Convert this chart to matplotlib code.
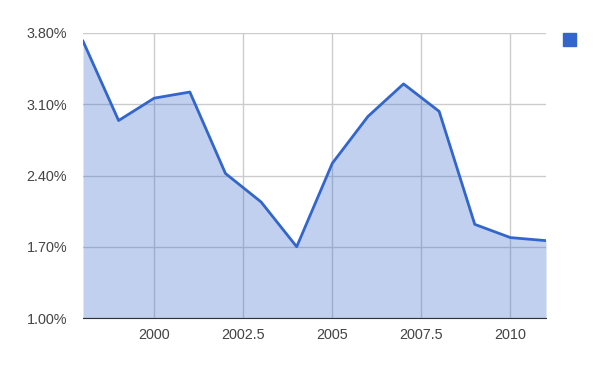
import matplotlib.pyplot as plt
import matplotlib.patches as mpatches
from matplotlib.ticker import FuncFormatter

# datos
years = [1998, 1999, 2000, 2001, 2002, 2003, 2004, 2005, 2006, 2007, 2008, 2009, 2010, 2011]
rates = [3.72, 2.94, 3.16, 3.22, 2.42, 2.14, 1.70, 2.52, 2.98, 3.30, 3.03, 1.92, 1.79, 1.76]
x_ticks = [2000, 2002.5, 2005, 2007.5, 2010]
y_ticks = [1.00, 1.70, 2.40, 3.10, 3.80]

blue = '#3366cc'

plt.rcParams['font.family'] = ['Liberation Sans', 'DejaVu Sans']

fig = plt.figure(figsize=(5.96, 3.67), dpi=100)
ax = fig.add_axes([83 / 596, 49 / 367, 463 / 596, 285 / 367])

ax.fill_between(years, y_ticks[0], rates, color=blue, alpha=0.3, linewidth=0, zorder=2)
ax.plot(years, rates, color=blue, linewidth=2, zorder=3)

ax.set_xlim(1998, 2011)
ax.set_ylim(y_ticks[0], y_ticks[-1])
ax.set_xticks(x_ticks)
ax.set_yticks(y_ticks)
ax.xaxis.set_major_formatter(FuncFormatter(lambda v, p: f'{v:g}'))
ax.yaxis.set_major_formatter(FuncFormatter(lambda v, p: f'{v:.2f}%'))

# rejilla estilo google
ax.set_axisbelow(True)
ax.grid(True, color='#cccccc', linewidth=1)
for side in ['top', 'right', 'left']:
    ax.spines[side].set_visible(False)
ax.spines['bottom'].set_color('#333333')
ax.spines['bottom'].set_zorder(4)
ax.tick_params(length=0, labelsize=10.4, labelcolor='#444444')
ax.tick_params(axis='x', pad=7.5)
ax.tick_params(axis='y', pad=11.5)

# cuadradito de la leyenda
fig.add_artist(mpatches.Rectangle((563 / 596, 1 - 46 / 367), 13 / 596, 13 / 367,
                                  transform=fig.transFigure, color=blue))

plt.savefig('out.png', dpi=100)
